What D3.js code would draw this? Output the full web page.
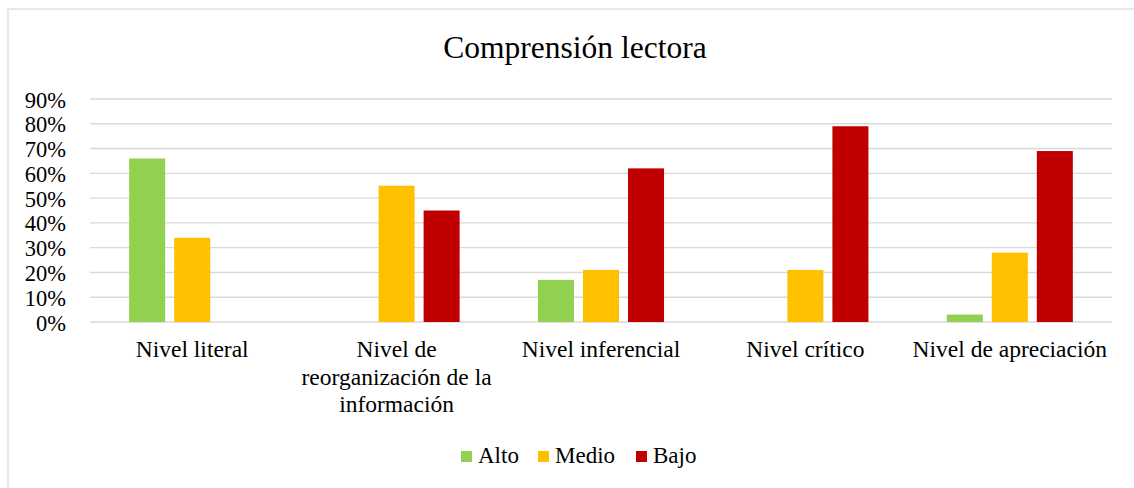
<!DOCTYPE html>
<html>
<head>
<meta charset="UTF-8">
<title>Comprensión lectora</title>
<script src="https://cdn.jsdelivr.net/npm/d3@7"></script>
<style>
    body { margin: 0; background: #fff; }
    .grid line { stroke: #d9d9d9; stroke-width: 1.4px; }
</style>
</head>
<body>
<script>
    // data
    var categories = ["Nivel literal", "Nivel de reorganización de la información", "Nivel inferencial", "Nivel crítico", "Nivel de apreciación"];
    var categoryLines = [["Nivel literal"], ["Nivel de", "reorganización de la", "información"], ["Nivel inferencial"], ["Nivel crítico"], ["Nivel de apreciación"]];
    var series = ["Alto", "Medio", "Bajo"];
    var alto = [0.66, 0, 0.17, 0, 0.03];
    var medio = [0.34, 0.55, 0.21, 0.21, 0.28];
    var bajo = [0, 0.45, 0.62, 0.79, 0.69];
    var colors = ["#92d050", "#ffc000", "#c00000"];
    var yTicks = [0, 0.1, 0.2, 0.3, 0.4, 0.5, 0.6, 0.7, 0.8, 0.9];

    var serifFont = "'Liberation Serif', serif";
    var width = 1134, height = 488;
    var svg = d3.select("body").append("svg")
        .attr("width", width)
        .attr("height", height);

    // chart frame (only top and left visible)
    svg.append("rect")
        .attr("x", 8).attr("y", 9)
        .attr("width", 1140).attr("height", 500)
        .attr("fill", "none")
        .attr("stroke", "#d9d9d9")
        .attr("stroke-width", 1.2);

    svg.append("text")
        .attr("x", 575).attr("y", 58)
        .attr("text-anchor", "middle")
        .attr("font-family", serifFont)
        .attr("font-size", 31.5)
        .text("Comprensión lectora");

    var x = d3.scaleBand().domain(categories).range([90, 1112]);
    var xs = d3.scaleBand().domain(series).range([0, x.bandwidth()])
        .paddingInner(0.2).paddingOuter(0.87);
    var y = d3.scaleLinear().domain([0, 0.9]).range([322, 99]);

    // gridlines
    svg.append("g").attr("class", "grid")
        .selectAll("line").data(yTicks).enter()
        .append("line")
        .attr("x1", 90).attr("x2", 1112)
        .attr("y1", function(d) { return y(d); })
        .attr("y2", function(d) { return y(d); });

    // y axis labels
    var yAxis = svg.append("g")
        .attr("transform", "translate(84,0)")
        .call(d3.axisLeft(y).tickValues(yTicks).tickFormat(d3.format(".0%")).tickSize(0).tickPadding(18));
    yAxis.attr("font-family", serifFont).attr("font-size", 22.5);
    yAxis.select(".domain").remove();
    yAxis.selectAll("text")
        .attr("fill", "#000")
        .attr("dy", "0.36em");

    var values = [alto, medio, bajo];
    var rows = [];
    series.forEach(function(s, si) {
        categories.forEach(function(c, ci) {
            rows.push({cat: c, ser: s, si: si, value: values[si][ci]});
        });
    });

    svg.append("g").selectAll("rect").data(rows).enter()
        .append("rect")
        .attr("x", function(d) { return x(d.cat) + xs(d.ser); })
        .attr("y", function(d) { return y(d.value); })
        .attr("width", xs.bandwidth())
        .attr("height", function(d) { return y(0) - y(d.value); })
        .attr("fill", function(d) { return colors[d.si]; });

    // category labels
    var cat = svg.append("g")
        .attr("font-family", serifFont)
        .attr("font-size", 23.5)
        .selectAll("text").data(categories).enter()
        .append("text")
        .attr("text-anchor", "middle");
    cat.each(function(d, i) {
        var t = d3.select(this);
        categoryLines[i].forEach(function(line, li) {
            t.append("tspan")
                .attr("x", x(d) + x.bandwidth() / 2)
                .attr("y", 357 + li * 27.5)
                .text(line);
        });
    });

    // legend
    var legendX = [461, 538, 636];
    var legend = svg.append("g")
        .attr("font-family", serifFont)
        .attr("font-size", 23)
        .selectAll("g").data(series).enter()
        .append("g")
        .attr("transform", function(d, i) { return "translate(" + legendX[i] + ",451)"; });
    legend.append("rect")
        .attr("width", 11).attr("height", 11)
        .attr("fill", function(d, i) { return colors[i]; });
    legend.append("text")
        .attr("x", 17).attr("y", 12)
        .text(function(d) { return d; });
</script>
</body>
</html>
